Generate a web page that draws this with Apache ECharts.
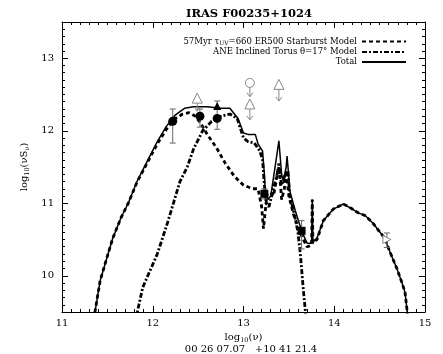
<!DOCTYPE html>
<html>
<head>
<meta charset="utf-8">
<script src="https://cdn.jsdelivr.net/npm/echarts@6/dist/echarts.min.js"></script>
<style>
  html, body { margin: 0; padding: 0; background: #fff; }
  #main { width: 443px; height: 354px; }
</style>
</head>
<body>
<div id="main"></div>
<script>
// log10(nu), log10(nu S_nu)
var totalCurve = [
  [11.35, 9.4], [11.42, 9.93], [11.5, 10.27], [11.56, 10.52], [11.65, 10.8], [11.73, 11.0],
  [11.83, 11.31], [11.94, 11.58], [12.05, 11.85], [12.15, 12.06], [12.25, 12.22], [12.35, 12.31],
  [12.45, 12.33], [12.6, 12.33], [12.75, 12.31], [12.85, 12.31], [12.94, 12.17], [13.0, 11.97],
  [13.05, 11.95], [13.13, 11.95], [13.16, 11.82], [13.21, 11.72], [13.23, 11.4], [13.24, 11.15],
  [13.27, 11.05], [13.3, 11.1], [13.33, 11.35], [13.39, 11.86], [13.42, 11.4], [13.44, 11.3],
  [13.47, 11.5], [13.48, 11.65], [13.5, 11.35], [13.51, 11.17], [13.57, 10.9], [13.64, 10.62],
  [13.7, 10.45], [13.75, 10.45], [13.758, 11.05], [13.765, 10.47], [13.81, 10.52], [13.88, 10.76],
  [13.99, 10.92], [14.1, 10.99], [14.2, 10.92], [14.26, 10.87], [14.34, 10.83], [14.43, 10.72],
  [14.56, 10.51], [14.61, 10.34], [14.69, 10.1], [14.75, 9.89], [14.78, 9.77], [14.8, 9.55], [14.81, 9.4]
];
var starburstCurve = [
  [11.35, 9.4], [11.42, 9.93], [11.5, 10.27], [11.56, 10.52], [11.65, 10.8], [11.73, 11.0],
  [11.83, 11.3], [11.94, 11.56], [12.05, 11.82], [12.15, 12.02], [12.25, 12.17], [12.33, 12.23],
  [12.4, 12.25], [12.47, 12.2], [12.53, 12.1], [12.6, 11.95], [12.7, 11.77], [12.8, 11.55],
  [12.9, 11.37], [13.0, 11.25], [13.1, 11.2], [13.16, 11.2], [13.2, 10.95], [13.22, 10.65],
  [13.24, 10.9], [13.26, 11.12], [13.3, 11.15], [13.33, 11.1], [13.36, 11.3], [13.39, 11.55],
  [13.42, 11.05], [13.45, 11.2], [13.47, 11.45], [13.5, 11.1], [13.55, 10.85], [13.62, 10.6],
  [13.7, 10.4], [13.75, 10.42], [13.758, 11.05], [13.765, 10.45], [13.81, 10.5], [13.88, 10.76],
  [13.99, 10.92], [14.1, 10.99], [14.2, 10.92], [14.26, 10.87], [14.34, 10.83], [14.43, 10.72],
  [14.56, 10.51], [14.61, 10.34], [14.69, 10.1], [14.75, 9.89], [14.78, 9.77], [14.8, 9.55], [14.81, 9.4]
];
var torusCurve = [
  [11.81, 9.4], [11.83, 9.5], [11.89, 9.84], [12.05, 10.3], [12.16, 10.72], [12.3, 11.3],
  [12.38, 11.5], [12.45, 11.75], [12.55, 12.0], [12.65, 12.13], [12.75, 12.2], [12.85, 12.23],
  [12.93, 12.17], [13.0, 11.9], [13.05, 11.85], [13.12, 11.83], [13.18, 11.72], [13.21, 11.6],
  [13.23, 11.25], [13.25, 11.0], [13.28, 10.95], [13.32, 11.15], [13.37, 11.4], [13.39, 11.5],
  [13.42, 11.25], [13.46, 11.4], [13.49, 11.45], [13.51, 11.1], [13.56, 10.85], [13.6, 10.6],
  [13.63, 10.25], [13.66, 9.8], [13.69, 9.4]
];

var detections = [[12.22, 12.13], [12.52, 12.2], [12.71, 12.17]];
var detectionErrors = [[12.22, 11.83, 12.30], [12.52, 12.05, 12.30], [12.71, 12.02, 12.41]];
var filledTriangles = [[12.71, 12.34]];
var filledSquares = [[13.23, 11.13], [13.64, 10.62]];
var squareErrors = [[13.23, 11.06, 11.2], [13.64, 10.37, 10.76], [14.58, 10.39, 10.59]];
var openCircles = [[13.07, 12.66]];
var openTriangles = [[12.49, 12.45], [13.07, 12.37], [13.39, 12.64]];
var openRightTriangles = [[14.58, 10.5]];
// x, from, to (arrow pointing down)
var limitArrows = [[12.49, 12.41, 12.27], [13.07, 12.62, 12.47], [13.07, 12.32, 12.15], [13.39, 12.7, 12.41]];

var yMajor = [10, 11, 12, 13];
var legendNames = {
  Starburst: '57Myr τ{s|UV}=660 ER500 Starburst Model',
  Torus: 'ANE Inclined Torus θ=17° Model',
  Total: 'Total'
};

var serif = 'DejaVu Serif';
var chart = echarts.init(document.getElementById('main'));

function renderErr(params, api) {
  var p1 = api.coord([api.value(0), api.value(1)]);
  var p2 = api.coord([api.value(0), api.value(2)]);
  var c = 3;
  var st = { stroke: '#666', lineWidth: 1 };
  return {
    type: 'group',
    children: [
      { type: 'line', shape: { x1: p1[0], y1: p1[1], x2: p2[0], y2: p2[1] }, style: st },
      { type: 'line', shape: { x1: p1[0] - c, y1: p1[1], x2: p1[0] + c, y2: p1[1] }, style: st },
      { type: 'line', shape: { x1: p2[0] - c, y1: p2[1], x2: p2[0] + c, y2: p2[1] }, style: st }
    ]
  };
}

function renderArrow(params, api) {
  var p1 = api.coord([api.value(0), api.value(1)]);
  var p2 = api.coord([api.value(0), api.value(2)]);
  var st = { stroke: '#888', lineWidth: 1, fill: 'none' };
  return {
    type: 'group',
    children: [
      { type: 'line', shape: { x1: p1[0], y1: p1[1], x2: p2[0], y2: p2[1] }, style: st },
      { type: 'polyline', shape: { points: [[p2[0] - 3, p2[1] - 4], [p2[0], p2[1]], [p2[0] + 3, p2[1] - 4]] }, style: st }
    ]
  };
}

function xAx(pos, labels) {
  return {
    type: 'value', position: pos, min: 11, max: 15, interval: 1,
    name: labels ? 'log{s|10}(ν)' : '', nameLocation: 'middle', nameGap: 18,
    nameTextStyle: { fontFamily: serif, fontSize: 10, color: '#000', rich: { s: { fontFamily: serif, fontSize: 6.5, padding: [5, 0, 0, 0] } } },
    axisLine: { show: true, lineStyle: { color: '#000', width: 1 } },
    axisTick: { show: true, inside: true, length: 6, lineStyle: { color: '#000' } },
    minorTick: { show: true, splitNumber: 10, length: 3, lineStyle: { color: '#000' } },
    axisLabel: { show: labels, fontFamily: serif, fontSize: 10, color: '#000', margin: 6 },
    splitLine: { show: false }, minorSplitLine: { show: false }
  };
}

function yMinor(pos) {
  return {
    type: 'value', position: pos, min: 9.5, max: 13.5, interval: 0.1,
    axisLine: { show: true, lineStyle: { color: '#000', width: 1 } },
    axisTick: { show: true, inside: true, length: 3, lineStyle: { color: '#000' } },
    axisLabel: { show: false }, splitLine: { show: false }
  };
}

function yMaj(pos, labels) {
  return {
    type: 'value', position: pos, min: 9.5, max: 13.5,
    name: labels ? 'log{s|10}(νS{s|ν})' : '', nameLocation: 'middle', nameGap: 27, nameRotate: 90,
    nameTextStyle: { fontFamily: serif, fontSize: 10, color: '#000', rich: { s: { fontFamily: serif, fontSize: 6.5, padding: [5, 0, 0, 0] } } },
    axisLine: { show: false },
    axisTick: { show: true, inside: true, length: 6, customValues: yMajor, lineStyle: { color: '#000' } },
    axisLabel: { show: labels, customValues: yMajor, fontFamily: serif, fontSize: 10, color: '#000', margin: 8 },
    splitLine: { show: false }
  };
}

var option = {
  backgroundColor: '#fff',
  animation: false,
  title: [
    { text: 'IRAS F00235+1024', left: 244, top: 3, textAlign: 'center',
      textStyle: { fontFamily: serif, fontSize: 11.5, fontWeight: 'bold', color: '#000' } },
    { text: '00 26 07.07   +10 41 21.4', left: 246, top: 339, textAlign: 'center',
      textStyle: { fontFamily: serif, fontSize: 10, fontWeight: 'normal', color: '#000' } }
  ],
  grid: { left: 62, right: 18, top: 22, bottom: 42 },
  legend: {
    data: ['Starburst', 'Torus', 'Total'],
    orient: 'vertical', right: 36, top: 37, align: 'right', padding: 0,
    itemWidth: 44, itemHeight: 8, itemGap: 1,
    itemStyle: { opacity: 0 },
    formatter: function (name) { return legendNames[name]; },
    textStyle: { fontFamily: serif, fontSize: 8.5, color: '#000', rich: { s: { fontFamily: serif, fontSize: 6, padding: [4, 0, 0, 0] } } },
    selectedMode: false
  },
  xAxis: [xAx('bottom', true), xAx('top', false)],
  yAxis: [yMinor('left'), yMaj('left', true), yMinor('right'), yMaj('right', false)],
  series: [
    { name: 'Total', type: 'line', data: totalCurve, symbol: 'none', z: 3,
      itemStyle: { color: '#000' }, lineStyle: { color: '#000', width: 1.5 } },
    { name: 'Starburst', type: 'line', data: starburstCurve, symbol: 'none', z: 4,
      itemStyle: { color: '#000' }, lineStyle: { color: '#000', width: 2.8, type: [4, 3] } },
    { name: 'Torus', type: 'line', data: torusCurve, symbol: 'none', z: 4,
      itemStyle: { color: '#000' }, lineStyle: { color: '#000', width: 2.8, type: [5, 2, 2, 2] } },
    { type: 'custom', renderItem: renderErr, data: detectionErrors, encode: { x: 0, y: [1, 2] }, z: 5 },
    { type: 'custom', renderItem: renderErr, data: squareErrors, encode: { x: 0, y: [1, 2] }, z: 5 },
    { type: 'custom', renderItem: renderArrow, data: limitArrows, encode: { x: 0, y: [1, 2] }, z: 5 },
    { type: 'scatter', data: detections, symbol: 'circle', symbolSize: 9, itemStyle: { color: '#000', opacity: 1 }, z: 6 },
    { type: 'scatter', data: filledTriangles, symbol: 'triangle', symbolSize: 8, itemStyle: { color: '#000', opacity: 1 }, z: 6 },
    { type: 'scatter', data: filledSquares, symbol: 'rect', symbolSize: 8, itemStyle: { color: '#000', opacity: 1 }, z: 6 },
    { type: 'scatter', data: openCircles, symbol: 'circle', symbolSize: 9, itemStyle: { color: '#fff', borderColor: '#888', borderWidth: 1, opacity: 1 }, z: 6 },
    { type: 'scatter', data: openTriangles, symbol: 'triangle', symbolSize: 10, itemStyle: { color: '#fff', borderColor: '#888', borderWidth: 1, opacity: 1 }, z: 6 },
    { type: 'scatter', data: openRightTriangles, symbol: 'triangle', symbolRotate: -90, symbolSize: 8, itemStyle: { color: '#fff', borderColor: '#888', borderWidth: 1, opacity: 1 }, z: 6 }
  ]
};

chart.setOption(option);
</script>
</body>
</html>
